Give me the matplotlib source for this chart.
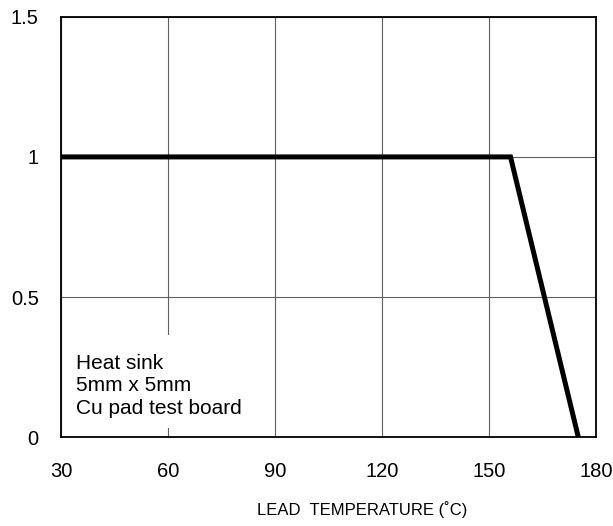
import matplotlib.pyplot as plt
from matplotlib.patches import Rectangle

plt.rcParams['font.family'] = ['Liberation Sans', 'DejaVu Sans']

# Derating curve
temp = [30, 156, 175]
ratio = [1.0, 1.0, 0.0]

x_ticks = [30, 60, 90, 120, 150, 180]
y_ticks = [0, 0.5, 1, 1.5]
y_labels = ['0', '0.5', '1', '1.5']

fig = plt.figure(figsize=(6.13, 5.26), dpi=100)
ax = fig.add_axes([0.0995, 0.169, 0.873, 0.799])

ax.plot(temp, ratio, color='black', linewidth=3.6, solid_joinstyle='miter', zorder=3)

ax.set_xlim(30, 180)
ax.set_ylim(0, 1.5)
ax.set_xticks(x_ticks)
ax.set_yticks(y_ticks)
ax.set_yticklabels(y_labels)
ax.tick_params(length=0, labelsize=14.5)
ax.tick_params(axis='x', pad=18)
ax.tick_params(axis='y', pad=16)
ax.set_axisbelow(True)
ax.grid(True, color='#606060', linewidth=0.8, zorder=0.5)
for s in ax.spines.values():
    s.set_linewidth(1.3)
    s.set_color('black')

# white patch behind the note hides the grid
ax.add_patch(Rectangle((0.01, 0.021), 0.37, 0.222, transform=ax.transAxes,
                       facecolor='white', edgecolor='none', zorder=1))
ax.text(34.2, 0.298, 'Heat sink\n5mm x 5mm\nCu pad test board', fontsize=15,
        va='top', ha='left', linespacing=1.25, zorder=4)

fig.text(362 / 613, 1 - 510 / 526, 'LEAD  TEMPERATURE (˚C)', fontsize=12,
         ha='center', va='center')

fig.savefig('out.png', dpi=100)
